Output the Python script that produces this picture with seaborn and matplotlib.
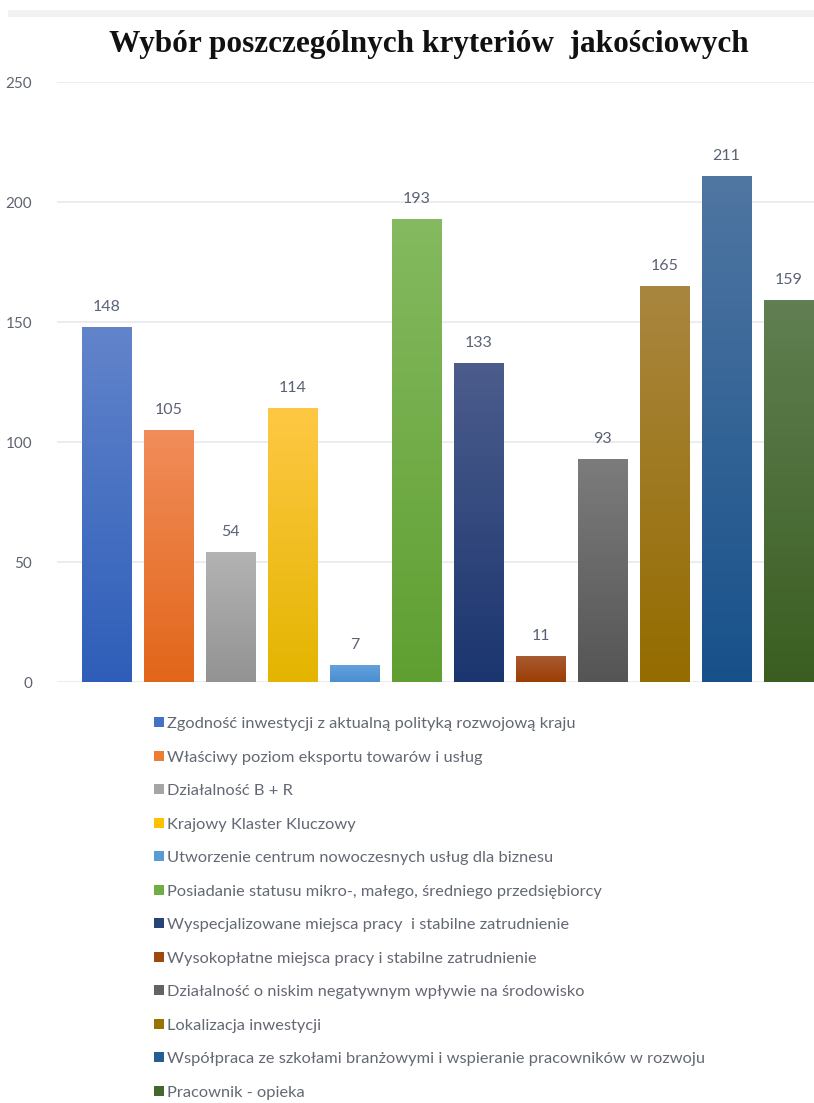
import matplotlib
matplotlib.use("Agg")
import matplotlib.pyplot as plt
import matplotlib.colors as mcolors
from matplotlib.patches import Rectangle, Patch
import numpy as np
import pandas as pd
import seaborn as sns

categories = [
    "Zgodność inwestycji z aktualną polityką rozwojową kraju",
    "Właściwy poziom eksportu towarów i usług",
    "Działalność B + R",
    "Krajowy Klaster Kluczowy",
    "Utworzenie centrum nowoczesnych usług dla biznesu",
    "Posiadanie statusu mikro-, małego, średniego przedsiębiorcy",
    "Wyspecjalizowane miejsca pracy  i stabilne zatrudnienie",
    "Wysokopłatne miejsca pracy i stabilne zatrudnienie",
    "Działalność o niskim negatywnym wpływie na środowisko",
    "Lokalizacja inwestycji",
    "Współpraca ze szkołami branżowymi i wspieranie pracowników w rozwoju",
    "Pracownik - opieka",
]
values = [148, 105, 54, 114, 7, 193, 133, 11, 93, 165, 211, 159]
top_colors = ["#6284cb", "#f18d5a", "#b3b3b3", "#ffc844", "#62a2dc", "#85ba60",
              "#4c5d8c", "#a95c33", "#7c7c7c", "#a9863f", "#5076a2", "#617f52"]
bottom_colors = ["#2e5eb9", "#e2661a", "#939393", "#e3b500", "#4b8fd0", "#5f9f31",
                 "#1b356f", "#9c3d04", "#555555", "#946c00", "#17518a", "#3a5e21"]
legend_colors = ["#4472c4", "#ed7d31", "#a5a5a5", "#ffc000", "#5b9bd5", "#70ad47",
                 "#264478", "#9e480e", "#636363", "#997300", "#255e91", "#43682b"]
yticks = [0, 50, 100, 150, 200, 250]
title = "Wybór poszczególnych kryteriów  jakościowych"

sns.set_theme(style="white")
plt.rcParams["font.family"] = ["Lato", "DejaVu Sans"]

W, H = 814, 1103
fig = plt.figure(figsize=(W / 100, H / 100), dpi=100)
fig.patch.set_facecolor("white")

# light band at top
fig.add_artist(Rectangle((8 / W, 1 - 17 / H), 1, 7 / H, transform=fig.transFigure,
                         facecolor="#f2f2f2", edgecolor="none"))

ax = fig.add_axes([57 / W, 1 - 682 / H, 1 - 57 / W, (682 - 82) / H])
df = pd.DataFrame({"cat": categories, "val": values})
sns.barplot(data=df, x="cat", y="val", hue="cat", palette=legend_colors,
            legend=False, width=0.8, ax=ax, saturation=1)

ax.set_ylim(0, 250)
ax.set_xlim(-0.8, 11.41)
ax.set_yticks(yticks)
ax.set_yticklabels([str(t) for t in yticks], color="#5f6470", fontsize=11)
ax.tick_params(axis="y", length=0, pad=18)
ax.set_xticks([])
ax.set_xlabel("")
ax.set_ylabel("")
for s in ax.spines.values():
    s.set_visible(False)
ax.grid(axis="y", color="#e6e9ee", linewidth=1.2)
ax.set_axisbelow(True)

# gradient fill clipped to each bar
for p, ct, cb in zip(ax.patches, top_colors, bottom_colors):
    x0, y0 = p.get_x(), p.get_y()
    w, h = p.get_width(), p.get_height()
    cmap = mcolors.LinearSegmentedColormap.from_list("g", [cb, ct])
    grad = np.linspace(0, 1, 256).reshape(-1, 1)
    im = ax.imshow(grad, cmap=cmap, aspect="auto", origin="lower",
                   extent=(x0, x0 + w, y0, y0 + h), zorder=p.get_zorder() + 0.1)
    im.set_clip_path(p)
ax.set_xlim(-0.8, 11.41)
ax.set_ylim(0, 250)

for i, v in enumerate(values):
    ax.text(i, v + 8.3, str(v), ha="center", va="center", fontsize=11.5, color="#5a6275")

fig.text(429 / W, 1 - 52 / H, title, ha="center", va="baseline",
         fontsize=22.5, fontweight="bold", family="Liberation Serif", color="#111111")

handles = [Patch(facecolor=c, edgecolor="none") for c in legend_colors]
leg = fig.legend(handles, categories, loc="upper left",
                 bbox_to_anchor=(154 / W, 1 - 717 / H), frameon=False,
                 fontsize=11.8, labelcolor="#636873", handlelength=0.6,
                 handleheight=0.6, handletextpad=0.2, labelspacing=1.19,
                 borderpad=0, borderaxespad=0)

fig.savefig("out.png", dpi=100)
